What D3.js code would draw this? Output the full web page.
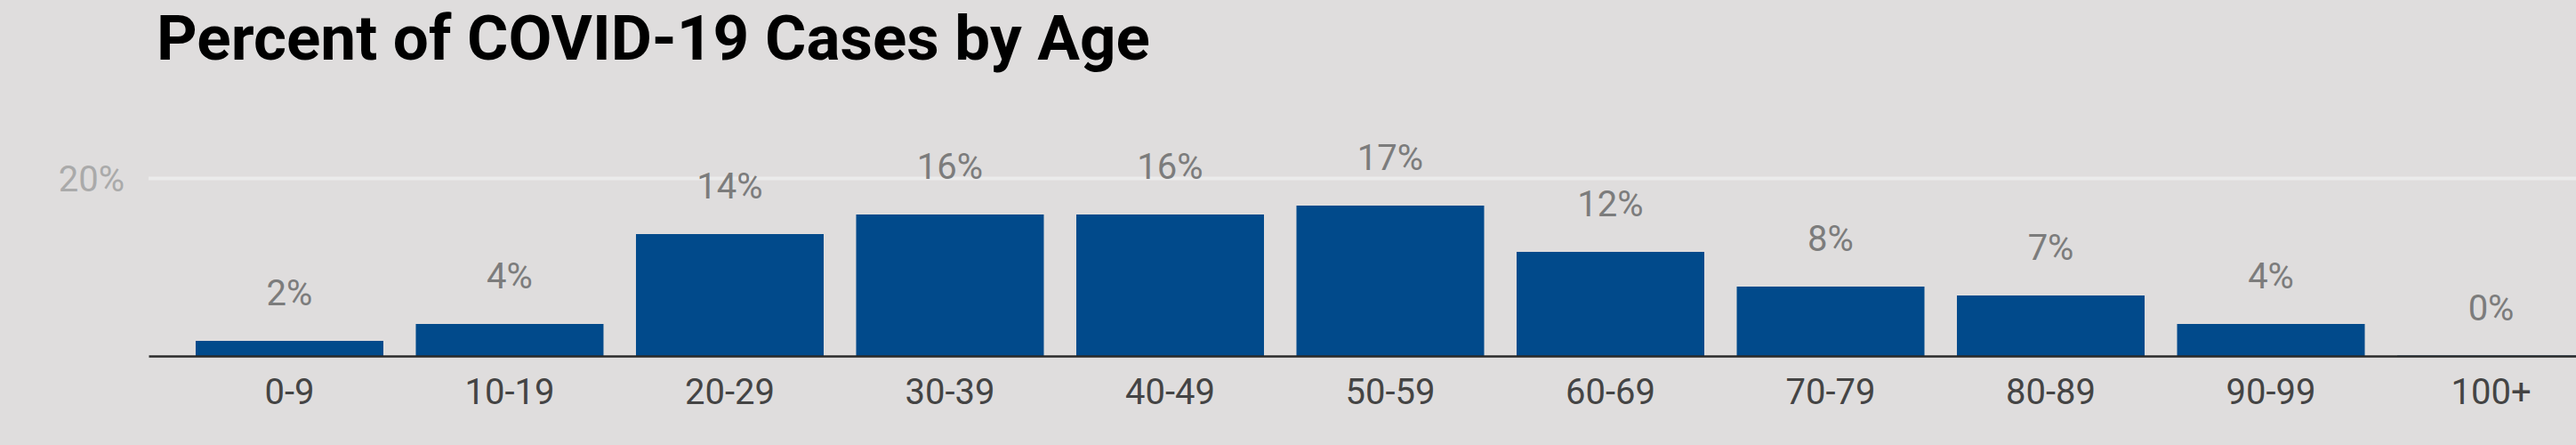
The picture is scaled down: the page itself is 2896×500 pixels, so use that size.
<!DOCTYPE html>
<html>
<head>
<meta charset="utf-8">
<script src="https://cdn.jsdelivr.net/npm/d3@7"></script>
<style>
  html, body { margin: 0; padding: 0; background: #dfdddd; }
  svg { display: block; }
</style>
</head>
<body>
<svg id="chart" width="2896" height="500"></svg>
<script>
const title = "Percent of COVID-19 Cases by Age";
const categories = ["0-9", "10-19", "20-29", "30-39", "40-49", "50-59", "60-69", "70-79", "80-89", "90-99", "100+"];
const values = [1.7, 3.6, 13.7, 15.9, 15.9, 16.9, 11.7, 7.8, 6.8, 3.6, 0.05];
const yTicks = [20];

const W = 2896, H = 500;
const svg = d3.select("#chart");
svg.append("rect").attr("width", W).attr("height", H).attr("fill", "#dfdddd");

const left = 167;
const x = d3.scaleBand()
  .domain(categories)
  .range([left, 2959])
  .paddingInner(0.1475)
  .paddingOuter(0.214);

const y = d3.scaleLinear().domain([0, 20]).range([400, 200]);

// gridline + y label
const yAxis = svg.append("g")
  .attr("transform", `translate(${left},0)`)
  .call(d3.axisLeft(y).tickValues(yTicks).tickSize(-(W - left)).tickPadding(27).tickFormat(d => d + "%"));
yAxis.select(".domain").remove();
yAxis.selectAll(".tick line").attr("stroke", "#ebebeb").attr("stroke-width", 4);
yAxis.selectAll(".tick text")
  .attr("fill", "#aaaaaa")
  .attr("font-family", "Roboto")
  .attr("font-size", 40)
  .attr("dy", "0.36em");

// bars
svg.append("g").selectAll("rect")
  .data(categories)
  .join("rect")
  .attr("x", d => x(d))
  .attr("width", x.bandwidth())
  .attr("y", (d, i) => y(values[i]))
  .attr("height", (d, i) => y(0) - y(values[i]))
  .attr("fill", "#014a8b");

// value labels
const fmt = d3.format(".0f");
svg.append("g").selectAll("text")
  .data(categories)
  .join("text")
  .attr("x", d => x(d) + x.bandwidth() / 2)
  .attr("y", (d, i) => y(values[i]) - 40)
  .attr("text-anchor", "middle")
  .attr("font-family", "Roboto")
  .attr("font-size", 40)
  .attr("fill", "#7c7c7c")
  .text((d, i) => fmt(values[i]) + "%");

// x axis
const xAxis = svg.append("g")
  .attr("transform", `translate(0,${y(0)})`)
  .call(d3.axisBottom(x).tickSize(0).tickSizeOuter(0).tickPadding(25.6));
xAxis.select(".domain").attr("stroke", "#2a2a2a").attr("stroke-width", 2.5);
xAxis.selectAll(".tick text")
  .attr("fill", "#444444")
  .attr("font-family", "Roboto")
  .attr("font-size", 40);

// title
svg.append("text")
  .attr("x", 176)
  .attr("y", 67)
  .attr("font-family", "Roboto")
  .attr("font-weight", "bold")
  .attr("font-size", 71)
  .attr("fill", "#000000")
  .text(title);
</script>
</body>
</html>
